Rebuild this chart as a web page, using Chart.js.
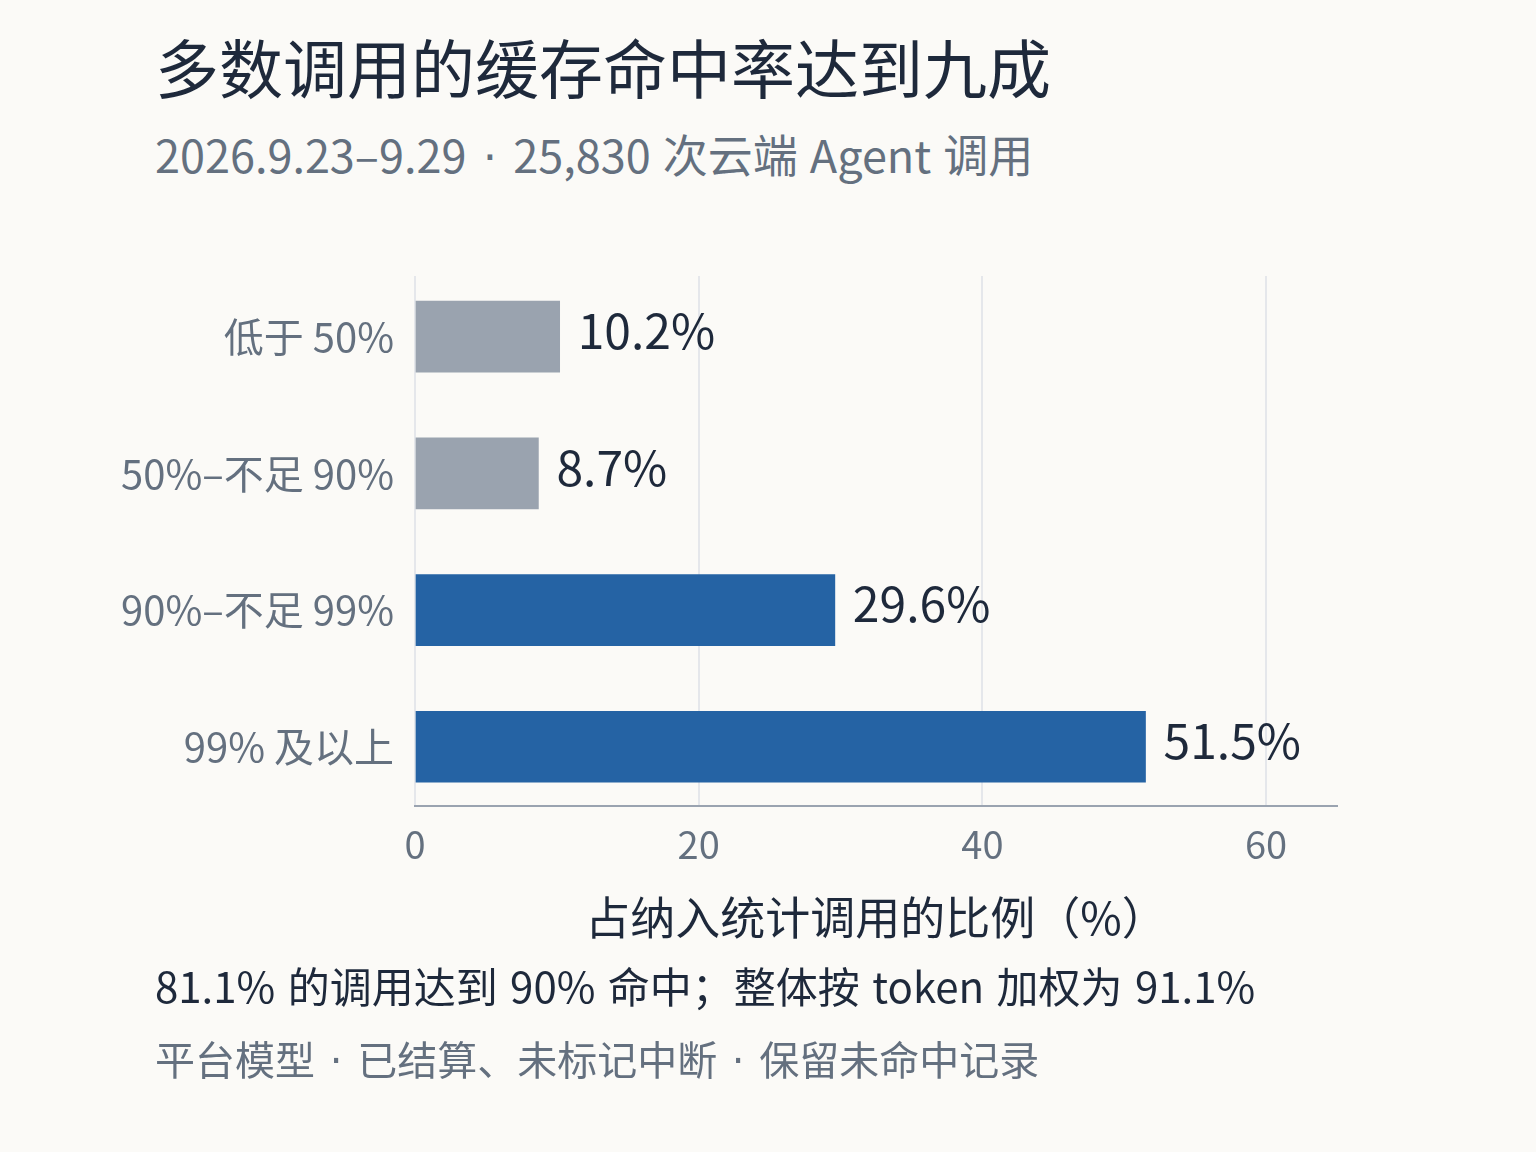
<!DOCTYPE html>
<html lang="zh-CN">
<head>
<meta charset="utf-8">
<script src="https://cdn.jsdelivr.net/npm/chart.js@4.4.1/dist/chart.umd.min.js"></script>
<style>
  html, body { margin: 0; padding: 0; background: #fbfaf7; }
  body {
    width: 1536px; height: 1152px; position: relative; overflow: hidden;
    font-family: "Noto Sans CJK SC", "Noto Sans", sans-serif;
  }
  .txt { position: absolute; left: 155px; line-height: 1; white-space: pre; }
  .title { top: 33px; font-size: 64px; color: #1e293b; }
  .subtitle { top: 131px; font-size: 45px; color: #64707f; word-spacing: 2px; }
  .note { top: 964px; font-size: 42px; color: #1e293b; word-spacing: 3px; }
  .source { top: 1038px; font-size: 40px; color: #64707f; }
  .dot { font-family: "DejaVu Sans", sans-serif; word-spacing: 0; padding: 0 2px; }
  #chart { position: absolute; left: 0; top: 0; }
</style>
</head>
<body>
<div class="txt title">多数调用的缓存命中率达到九成</div>
<div class="txt subtitle">2026.9.23–9.29<span class="dot"> · </span>25,830 次云端 Agent 调用</div>
<canvas id="chart" width="1536" height="1152"></canvas>
<div class="txt note">81.1% 的调用达到 90% 命中；整体按 token 加权为 91.1%</div>
<div class="txt source">平台模型<span class="dot"> · </span>已结算、未标记中断<span class="dot"> · </span>保留未命中记录</div>

<script>
// hit-rate buckets, top to bottom
const buckets = ['低于 50%', '50%–不足 90%', '90%–不足 99%', '99% 及以上'];
const shares = [10.2, 8.7, 29.6, 51.5];
const xTicks = [0, 20, 40, 60];
const xMax = 65;

const GRAY = '#9aa3af';
const BLUE = '#2563a4';
const barColors = shares.map((v, i) => (i < 2 ? GRAY : BLUE));

const FONT = '"Noto Sans CJK SC", "Noto Sans", sans-serif';

// value labels at the end of each bar
const valueLabels = {
  id: 'valueLabels',
  afterDatasetsDraw(chart) {
    const ctx = chart.ctx;
    const meta = chart.getDatasetMeta(0);
    ctx.save();
    ctx.font = '48px ' + FONT;
    ctx.fillStyle = '#1e293b';
    ctx.textAlign = 'left';
    ctx.textBaseline = 'middle';
    meta.data.forEach((bar, i) => {
      ctx.fillText(shares[i].toFixed(1) + '%', bar.x + 18, bar.y - 6);
    });
    ctx.restore();
  }
};

new Chart(document.getElementById('chart'), {
  type: 'bar',
  data: {
    datasets: [{
      data: shares.map((v, i) => ({ x: v, y: i })),
      backgroundColor: barColors,
      borderWidth: 0,
      barThickness: 71
    }]
  },
  options: {
    indexAxis: 'y',
    responsive: false,
    animation: false,
    devicePixelRatio: 1,
    layout: { padding: { top: 276, right: 199, bottom: 186, left: 0 } },
    plugins: {
      legend: { display: false },
      tooltip: { enabled: false }
    },
    scales: {
      x: {
        type: 'linear',
        min: 0,
        max: xMax,
        afterBuildTicks: (scale) => { scale.ticks = xTicks.map(v => ({ value: v })); },
        afterFit: (scale) => { scale.height = 160; },
        grid: { color: '#e5e7eb', lineWidth: 2, drawTicks: false },
        border: { display: true, color: '#9aa3b0', width: 2 },
        ticks: {
          font: { family: FONT, size: 38 },
          color: '#64707f',
          padding: 16
        },
        title: {
          display: true,
          text: '占纳入统计调用的比例（%）',
          font: { family: FONT, size: 45 },
          color: '#1e293b',
          padding: { top: 0, bottom: 21 }
        }
      },
      y: {
        type: 'linear',
        reverse: true,
        offset: false,
        min: -0.443,
        max: 3.433,
        afterBuildTicks: (scale) => { scale.ticks = buckets.map((b, i) => ({ value: i })); },
        afterFit: (scale) => { scale.width = 415; },
        grid: { display: false, drawTicks: false },
        border: { display: false },
        ticks: {
          font: { family: FONT, size: 40 },
          color: '#64707f',
          padding: 21,
          callback: (value) => buckets[value]
        }
      }
    }
  },
  plugins: [valueLabels]
});
</script>
</body>
</html>
